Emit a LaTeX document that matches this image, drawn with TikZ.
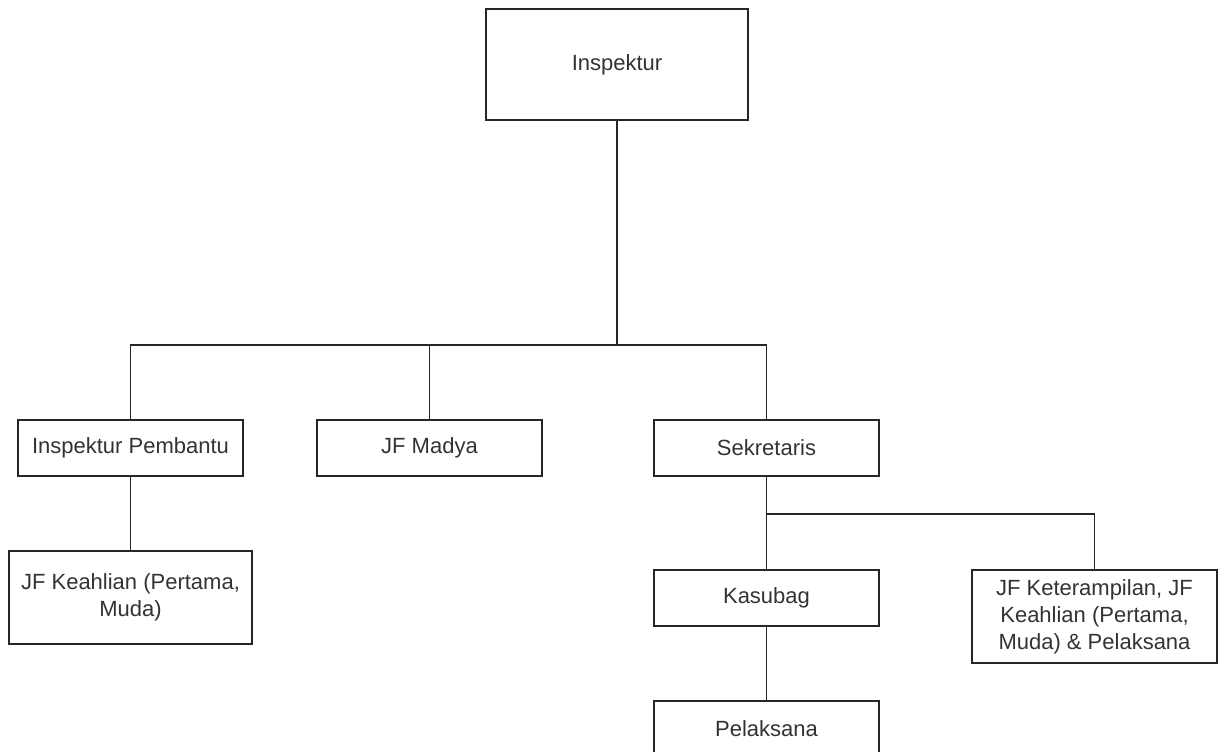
\documentclass[tikz,border=0pt]{standalone}
\usepackage{fontspec}
\setmainfont{Liberation Sans}
\begin{document}
\begin{tikzpicture}[x=1pt,y=-1pt,
  box/.style={draw=black!85,line width=1.9pt,rectangle,inner sep=0pt,
    minimum width=225pt,minimum height=56pt,align=center,text=black!80,
    font=\fontsize{22pt}{27pt}\selectfont},
  conn/.style={draw=black!85,line width=1.9pt}]
\clip (0,0) rectangle (1219,752);
\fill[white] (0,0) rectangle (1219,752);

% boxes
\node[box,minimum width=262pt,minimum height=111pt] (insp) at (617,64.5) {Inspektur};
\node[box] (pemb) at (130.5,448) {Inspektur Pembantu};
\node[box] (madya) at (429.5,448) {JF Madya};
\node[box] (sek) at (766.5,448) {Sekretaris};
\node[box,minimum width=243pt,minimum height=93pt] (keah) at (130.5,597.5) {JF Keahlian (Pertama,\\Muda)};
\node[box] (kasubag) at (766.5,598) {Kasubag};
\node[box,minimum width=245pt,minimum height=93pt] (ket) at (1094.5,616.5) {JF Keterampilan, JF\\Keahlian (Pertama,\\Muda) \& Pelaksana};
\node[box] (pelaks) at (766.5,729) {Pelaksana};

% connectors
\coordinate (bus) at (617,345);
\coordinate (sbus) at (766.5,514);
\draw[conn] (insp.south) -- (bus);
\draw[conn] (pemb.north) |- (bus);
\draw[conn] (madya.north) -- (madya.north |- bus);
\draw[conn] (sek.north) |- (bus);
\draw[conn] (pemb.south) -- (keah.north);
\draw[conn] (sek.south) -- (kasubag.north);
\draw[conn] (ket.north) |- (sbus);
\draw[conn] (kasubag.south) -- (pelaks.north);
\end{tikzpicture}
\end{document}
